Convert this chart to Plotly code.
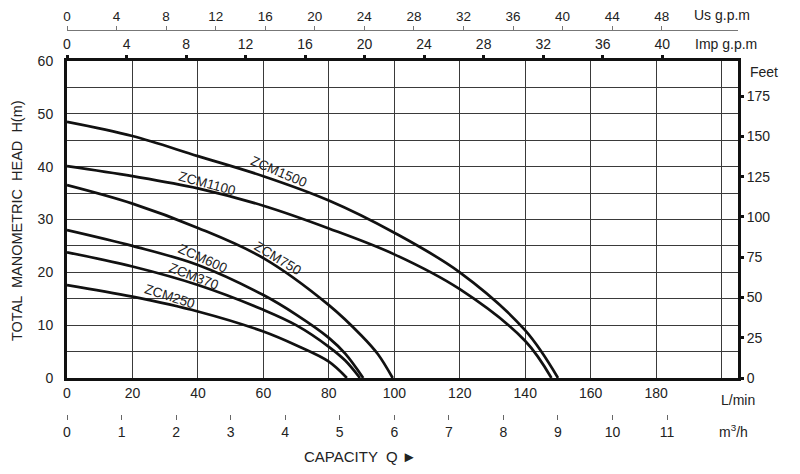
import plotly.graph_objects as go

# capacity in L/min, head in m
q_1500 = [0, 20, 40, 60, 80, 100, 120, 140, 150]
h_1500 = [48.5, 45.8, 42.0, 38.2, 33.6, 27.5, 20.0, 9.0, 0]

q_1100 = [0, 20, 40, 60, 80, 100, 120, 140, 148]
h_1100 = [40.1, 38.2, 35.9, 32.6, 28.3, 23.4, 16.8, 7.0, 0]

q_750 = [0, 20, 40, 60, 80, 90, 95, 99.5]
h_750 = [36.5, 33.0, 28.4, 22.7, 13.8, 8.0, 4.5, 0]

q_600 = [0, 20, 40, 60, 70, 80, 85, 90.5]
h_600 = [28.0, 25.0, 21.4, 15.7, 12.0, 7.6, 4.6, 0]

q_370 = [0, 20, 40, 60, 70, 80, 85, 89.5]
h_370 = [23.8, 21.1, 17.6, 12.9, 10.0, 5.9, 3.3, 0]

q_250 = [0, 20, 40, 60, 70, 80, 85.5]
h_250 = [17.6, 15.4, 12.6, 8.8, 6.2, 3.1, 0]

curves = [
    ("ZCM1500", q_1500, h_1500, 64.5, 39.0, 23),
    ("ZCM1100", q_1100, h_1100, 42.8, 36.9, 15),
    ("ZCM750", q_750, h_750, 64.5, 22.7, 31),
    ("ZCM600", q_600, h_600, 41.6, 22.7, 24),
    ("ZCM370", q_370, h_370, 38.8, 19.3, 21),
    ("ZCM250", q_250, h_250, 31.5, 15.5, 18),
]

lmin_ticks = [0, 20, 40, 60, 80, 100, 120, 140, 160, 180, 200]
m3h_ticks = list(range(0, 12))
imp_ticks = list(range(0, 41, 4))
us_ticks = list(range(0, 49, 4))
feet_ticks = list(range(0, 176, 25))
head_ticks = list(range(0, 61, 5))

QMAX = 205
FONT = "Liberation Sans, Arial, sans-serif"
TXT = "#222"
W, H = 800, 474
OFF = 8  # page body margin
L, R = 67, 738  # plot area left / right in window px
T, B = 61, 378  # plot area top / bottom in window px
PW = R - L


def px_x(px):
    return (px - L) / PW


def px_y(py):
    return 1 - (py - OFF) / H


fig = go.Figure()
for name, q, h, lx, ly, ang in curves:
    fig.add_trace(go.Scatter(x=q, y=h, mode="lines", line=dict(color="#111", width=2.7, shape="spline", smoothing=1.0),
                             showlegend=False, hoverinfo="skip"))
    fig.add_annotation(x=lx, y=ly, text=name, textangle=ang, showarrow=False,
                       font=dict(size=13.5, color=TXT, family=FONT))

# dummy traces so the extra axes get drawn
for xa, ya in [("x2", "y"), ("x3", "y"), ("x4", "y"), ("x", "y2")]:
    fig.add_trace(go.Scatter(x=[None], y=[None], xaxis=xa, yaxis=ya, showlegend=False, hoverinfo="skip"))

tickfont = dict(size=14, color=TXT, family=FONT)

fig.update_layout(
    width=W, height=H,
    margin=dict(l=L - OFF, r=W - PW - (L - OFF), t=0, b=0),
    plot_bgcolor="white", paper_bgcolor="white",
    xaxis=dict(range=[0, QMAX], tickvals=lmin_ticks,
               ticktext=[str(v) if v < 200 else "" for v in lmin_ticks],
               showgrid=True, gridcolor="#3a3a3a", gridwidth=1,
               showline=True, linecolor="#111", linewidth=3, mirror=True,
               ticks="", zeroline=False, tickfont=tickfont, automargin=False),
    yaxis=dict(domain=[px_y(B), px_y(T)], range=[0, 60], tickvals=head_ticks,
               ticktext=[str(v) if v % 10 == 0 else "" for v in head_ticks],
               showgrid=True, gridcolor="#3a3a3a", gridwidth=1,
               showline=True, linecolor="#111", linewidth=3, mirror=True,
               ticks="", zeroline=False, tickfont=tickfont, ticklabelstandoff=8,
               automargin=False),
    xaxis2=dict(overlaying="x", anchor="free", position=px_y(414), side="bottom",
                range=[0, QMAX * 0.06], tickvals=m3h_ticks, showgrid=False, showline=False,
                zeroline=False, ticks="outside", ticklen=5, tickwidth=1, tickcolor="#666",
                tickfont=tickfont, automargin=False),
    xaxis3=dict(overlaying="x", anchor="y", side="top",
                range=[0, QMAX / 4.54609], tickvals=imp_ticks, showgrid=False, showline=False,
                zeroline=False, ticks="outside", ticklen=5, tickwidth=3, tickcolor="#111",
                tickfont=tickfont, automargin=False),
    xaxis4=dict(overlaying="x", anchor="free", position=px_y(30), side="top",
                range=[0, QMAX / 3.78541], tickvals=us_ticks, showgrid=False,
                showline=True, linecolor="#777", linewidth=1,
                zeroline=False, ticks="outside", ticklen=4, tickwidth=1, tickcolor="#777",
                tickfont=dict(size=13.5, color=TXT, family=FONT), automargin=False),
    yaxis2=dict(overlaying="y", anchor="x", side="right",
                range=[0, 60 * 3.28084], tickvals=feet_ticks, showgrid=False, showline=False,
                zeroline=False, ticks="outside", ticklen=5, tickwidth=3, tickcolor="#111",
                tickfont=tickfont, automargin=False),
)

notes = [
    ("Us g.p.m", 692, 15, "left", 0, 14),
    ("Imp g.p.m", 693, 44, "left", 0, 14),
    ("Feet", 748, 72, "left", 0, 14),
    ("L/min", 719, 400, "left", 0, 14),
    ("m<sup>3</sup>/h", 717, 431, "left", 0, 14),
    ("CAPACITY  Q \u25ba", 360, 456, "center", 0, 15),
    ("TOTAL  MANOMETRIC  HEAD  H(m)", 17, 221, "center", -90, 14.5),
]
for txt, px, py, al, ang, sz in notes:
    fig.add_annotation(x=px_x(px), y=px_y(py), xref="paper", yref="paper", text=txt,
                       showarrow=False, xanchor=al, yanchor="middle", textangle=ang,
                       font=dict(size=sz, color=TXT, family=FONT))

fig.write_html("out.html")
